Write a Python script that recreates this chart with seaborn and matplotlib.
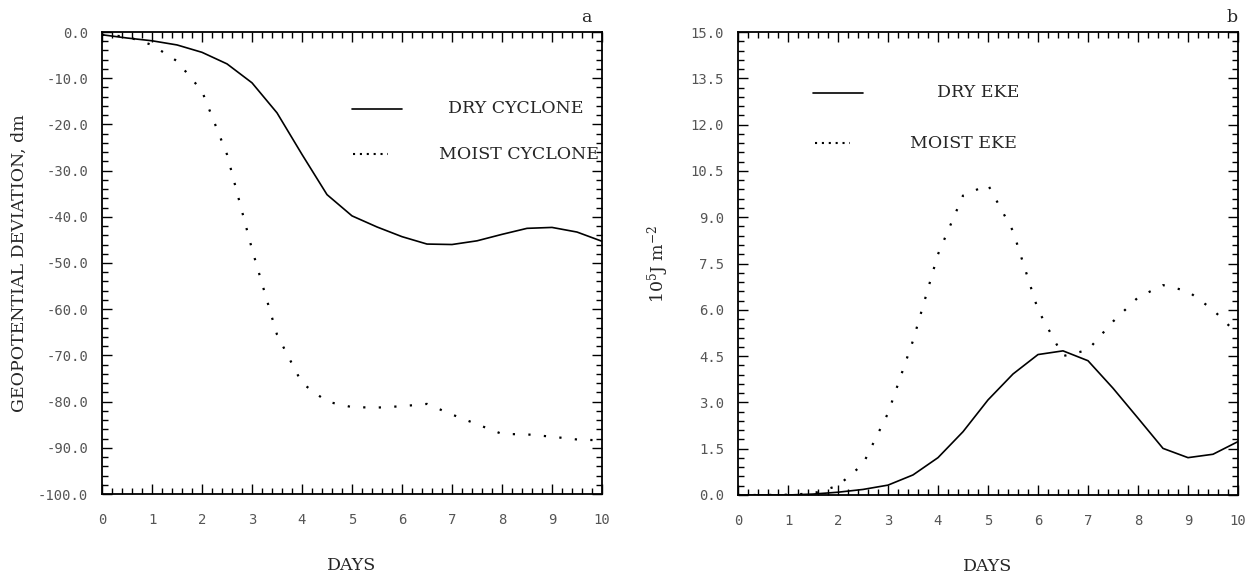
import numpy as np
import pandas as pd
import matplotlib
matplotlib.use("Agg")
import matplotlib.pyplot as plt
import seaborn as sns
from matplotlib.ticker import MultipleLocator, FormatStrFormatter

# ---------------- data ----------------
days = [0, 0.5, 1, 1.5, 2, 2.5, 3, 3.5, 4, 4.5, 5,
        5.5, 6, 6.5, 7, 7.5, 8, 8.5, 9, 9.5, 10]
dry_cyclone = [-0.6, -1.3, -1.9, -2.8, -4.4, -6.9, -11.0, -17.5, -26.5, -35.2, -39.8,
               -42.2, -44.3, -45.9, -46.0, -45.2, -43.8, -42.5, -42.3, -43.3, -45.3]
moist_cyclone = [-0.6, -1.0, -2.8, -6.3, -12.8, -26.5, -47.0, -65.5, -76.0, -80.0, -81.2,
                 -81.3, -81.0, -80.5, -82.8, -84.9, -87.0, -87.1, -87.6, -88.2, -88.4]
dry_eke = [0.0, 0.0, 0.0, 0.03, 0.09, 0.18, 0.32, 0.65, 1.21, 2.05, 3.08,
           3.92, 4.55, 4.67, 4.35, 3.46, 2.49, 1.51, 1.21, 1.32, 1.73]
moist_eke = [0.0, 0.0, 0.01, 0.05, 0.3, 1.0, 2.65, 5.0, 7.8, 9.7, 10.05,
             8.55, 6.0, 4.5, 4.7, 5.62, 6.4, 6.8, 6.6, 6.0, 5.2]

legend_a = ["DRY CYCLONE", "MOIST CYCLONE"]
legend_b = ["DRY EKE", "MOIST EKE"]
xlabel = "DAYS"
ylabel_a = "GEOPOTENTIAL DEVIATION, dm"
ylabel_b = r"10$^5$J m$^{-2}$"

# ---------------- style ----------------
sns.set_style("ticks")
plt.rcParams["font.family"] = ["DejaVu Sans Mono"]
plt.rcParams["axes.unicode_minus"] = False
plt.rcParams["mathtext.fontset"] = "dejavuserif"

SERIF = "DejaVu Serif"
DOT = (0, (1, 6))
LEG_DOT = (0, (1, 2.3))
TXT = 12.5

fig = plt.figure(figsize=(12.53, 5.75), dpi=100)
W, H = 1253, 575
ax_a = fig.add_axes([102 / W, (H - 494) / H, 500 / W, 462 / H])
ax_b = fig.add_axes([738 / W, (H - 495) / H, 500 / W, 463 / H])


def style_axes(ax, ymin, ymax, ymaj, ymin_step, yfmt):
    ax.set_xlim(0, 10)
    ax.set_ylim(ymin, ymax)
    ax.xaxis.set_major_locator(MultipleLocator(1))
    ax.xaxis.set_minor_locator(MultipleLocator(0.2))
    ax.yaxis.set_major_locator(MultipleLocator(ymaj))
    ax.yaxis.set_minor_locator(MultipleLocator(ymin_step))
    ax.yaxis.set_major_formatter(FormatStrFormatter(yfmt))
    ax.xaxis.set_major_formatter(FormatStrFormatter("%d"))
    ax.tick_params(which="both", direction="in", top=True, right=True,
                   color="black", width=1.0)
    ax.tick_params(which="major", length=7)
    ax.tick_params(which="minor", length=4)
    ax.tick_params(axis="x", which="major", pad=14, labelsize=10, labelcolor="#555555")
    ax.tick_params(axis="y", which="major", pad=10, labelsize=10, labelcolor="#555555")
    for s in ax.spines.values():
        s.set_linewidth(1.3)
        s.set_color("black")
    ax.set_xlabel(xlabel, family=SERIF, fontsize=TXT, labelpad=21)


# ---------------- panel a ----------------
sns.lineplot(x=days, y=dry_cyclone, ax=ax_a, color="black", linewidth=1.2)
sns.lineplot(x=days, y=moist_cyclone, ax=ax_a, color="black", linewidth=1.6, linestyle=DOT)
style_axes(ax_a, -100, 0, 10, 2, "%.1f")
ax_a.set_ylabel(ylabel_a, family=SERIF, fontsize=TXT, labelpad=7)

ax_a.plot([0.50, 0.60], [0.834, 0.834], transform=ax_a.transAxes, color="black", lw=1.2)
ax_a.plot([0.502, 0.572], [0.735, 0.735], transform=ax_a.transAxes, color="black",
          lw=1.5, linestyle=LEG_DOT)
ax_a.text(0.962, 0.834, legend_a[0], transform=ax_a.transAxes, ha="right", va="center",
          family=SERIF, fontsize=TXT)
ax_a.text(0.994, 0.735, legend_a[1], transform=ax_a.transAxes, ha="right", va="center",
          family=SERIF, fontsize=TXT)
ax_a.text(0.98, 1.012, "a", transform=ax_a.transAxes, ha="right", va="bottom",
          family=SERIF, fontsize=TXT)

# ---------------- panel b ----------------
sns.lineplot(x=days, y=dry_eke, ax=ax_b, color="black", linewidth=1.2)
sns.lineplot(x=days, y=moist_eke, ax=ax_b, color="black", linewidth=1.6, linestyle=DOT)
style_axes(ax_b, 0, 15, 1.5, 0.3, "%.1f")
ax_b.set_ylabel(ylabel_b, family=SERIF, fontsize=TXT, labelpad=14)

ax_b.plot([0.15, 0.25], [0.869, 0.869], transform=ax_b.transAxes, color="black", lw=1.2)
ax_b.plot([0.154, 0.224], [0.76, 0.76], transform=ax_b.transAxes, color="black",
          lw=1.5, linestyle=LEG_DOT)
ax_b.text(0.562, 0.869, legend_b[0], transform=ax_b.transAxes, ha="right", va="center",
          family=SERIF, fontsize=TXT)
ax_b.text(0.557, 0.76, legend_b[1], transform=ax_b.transAxes, ha="right", va="center",
          family=SERIF, fontsize=TXT)
ax_b.text(1.0, 1.012, "b", transform=ax_b.transAxes, ha="right", va="bottom",
          family=SERIF, fontsize=TXT)

fig.savefig("out.png", dpi=100)
